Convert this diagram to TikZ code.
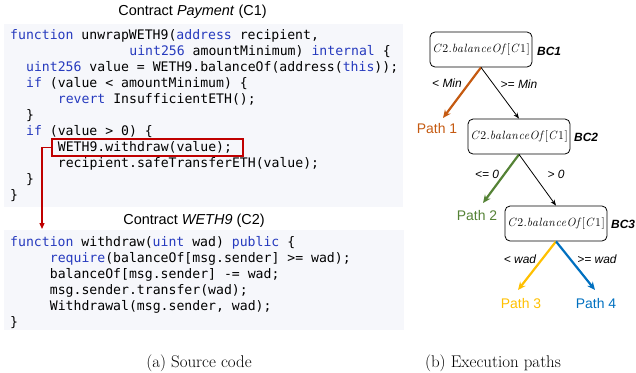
\documentclass[tikz,border=0pt]{standalone}
\usepackage{fontspec}
\setsansfont{Liberation Sans}
\setmonofont{DejaVu Sans Mono}
\newfontfamily\bcfont[LetterSpace=4]{Latin Modern Roman}
\usetikzlibrary{arrows.meta}
\definecolor{kwc}{RGB}{38,58,190}
\definecolor{codebg}{RGB}{246,247,251}
\definecolor{redc}{RGB}{192,0,0}
\definecolor{orangec}{RGB}{197,90,17}
\definecolor{greenc}{RGB}{84,130,53}
\definecolor{yellowc}{RGB}{255,192,0}
\definecolor{bluec}{RGB}{0,112,192}
\newcommand{\kw}[1]{\textcolor{kwc}{#1}}
\newcommand{\bcexpr}{{\fontsize{12}{14}\selectfont\bcfont\textit{C}2.\textit{balanceOf}[\textit{C}1]}}
\tikzset{
  codeline/.style={anchor=base west, inner sep=0pt, font=\fontsize{13.2}{16}\selectfont\ttfamily},
  ctitle/.style={inner sep=0pt, font=\fontsize{14.5}{16}\selectfont\sffamily},
  bcbox/.style={draw, rounded corners=5bp, minimum width=102bp, minimum height=35bp, inner sep=0pt, line width=0.8pt},
  bclabel/.style={anchor=west, inner sep=0pt, font=\fontsize{12}{14}\selectfont\sffamily\bfseries\itshape},
  elabel/.style={inner sep=0pt, font=\fontsize{12}{14}\selectfont\sffamily\itshape},
  pathlabel/.style={inner sep=0pt, font=\fontsize{14}{16}\selectfont\sffamily},
  fatarrow/.style={line width=2.2pt, -{Stealth[length=8bp,width=7bp]}},
  thinarrow/.style={line width=0.8pt, -{Stealth[length=6bp,width=4.5bp]}},
  caption/.style={inner sep=0pt, font=\fontsize{17}{19}\selectfont},
}
\begin{document}
\begin{tikzpicture}[x=1bp,y=-1bp]
\useasboundingbox (0,0) rectangle (636,372);
% code boxes
\fill[codebg] (4,24) rectangle (403,207);
\fill[codebg] (4,230) rectangle (404,330);
\node[ctitle] (t1) at (192.5,12) {Contract \textit{Payment} (C1)};
\node[ctitle] (t2) at (194,221) {Contract \textit{WETH9} (C2)};
% box 1
\node[codeline] (a1) at (10,39.5) {\kw{function} unwrapWETH9(\kw{address} recipient,};
\node[codeline] (a2) at (129.2,55.5) {\kw{uint256} amountMinimum) \kw{internal} \{};
\node[codeline] (a3) at (25.9,71.5) {\kw{uint256} value = WETH9.balanceOf(address(\kw{this}));};
\node[codeline] (a4) at (25.9,87.5) {\kw{if} (value < amountMinimum) \{};
\node[codeline] (a5) at (57.7,103.5) {\kw{revert} InsufficientETH();};
\node[codeline] (a6) at (25.9,119.5) {\}};
\node[codeline] (a7) at (25.9,135.5) {\kw{if} (value > 0) \{};
\node[codeline] (a8) at (57.7,151.5) {WETH9.withdraw(value);};
\node[codeline] (a9) at (57.7,167.5) {recipient.safeTransferETH(value);};
\node[codeline] (a10) at (25.9,183.5) {\}};
\node[codeline] (a11) at (10,199.5) {\}};
% box 2
\node[codeline] (b1) at (10,246.5) {\kw{function} withdraw(\kw{uint} wad) \kw{public} \{};
\node[codeline] (b2) at (49.7,262.5) {\kw{require}(balanceOf[msg.sender] >= wad);};
\node[codeline] (b3) at (49.7,278.5) {balanceOf[msg.sender] -= wad;};
\node[codeline] (b4) at (49.7,294.5) {msg.sender.transfer(wad);};
\node[codeline] (b5) at (49.7,310.5) {Withdrawal(msg.sender, wad);};
\node[codeline] (b6) at (10,326.5) {\}};
% red box and call arrow
\node[draw=redc, line width=1.2pt, minimum width=191bp, minimum height=17bp, inner sep=0pt] (redbox) at (147.5,147.5) {};
\coordinate (c2in) at (42,229);
\draw[redc, line width=1.2pt, -{Triangle[length=6bp,width=5bp]}] (redbox.west) -| (c2in);
% tree
\node[bcbox] (bc1) at (481,49.5) {\bcexpr};
\node[bclabel] (l1) at (537,51) {BC1};
\node[bcbox] (bc2) at (519,136.5) {\bcexpr};
\node[bclabel] (l2) at (574,137) {BC2};
\node[bcbox] (bc3) at (556,223.5) {\bcexpr};
\node[bclabel] (l3) at (611,224) {BC3};
\node[pathlabel, text=orangec] (p1) at (437,129) {Path 1};
\node[pathlabel, text=greenc] (p2) at (477,216) {Path 2};
\node[pathlabel, text=yellowc] (p3) at (521,304) {Path 3};
\node[pathlabel, text=bluec] (p4) at (596,304) {Path 4};
\coordinate (e1) at (443,118);
\coordinate (e2) at (483,203);
\coordinate (e3) at (518,290);
\coordinate (e4) at (595,290);
\draw[orangec, fatarrow] (bc1.south) -- (e1);
\draw[thinarrow] (bc1.south) -- (bc2.north);
\draw[greenc, fatarrow] (bc2.south) -- (e2);
\draw[thinarrow] (bc2.south) -- (bc3.north);
\draw[yellowc, fatarrow] (bc3.south) -- (e3);
\draw[bluec, fatarrow] (bc3.south) -- (e4);
\node[elabel] (m1) at (447,83) {< Min};
\node[elabel] (m2) at (519,84) {>= Min};
\node[elabel] (m3) at (487,174) {<= 0};
\node[elabel] (m4) at (556,174) {> 0};
\node[elabel] (m5) at (520,259) {< wad};
\node[elabel] (m6) at (597,259) {>= wad};
% captions
\node[caption] (capa) at (199,363) {(a)~Source code};
\node[caption] (capb) at (493,363) {(b)~Execution paths};
\end{tikzpicture}
\end{document}
